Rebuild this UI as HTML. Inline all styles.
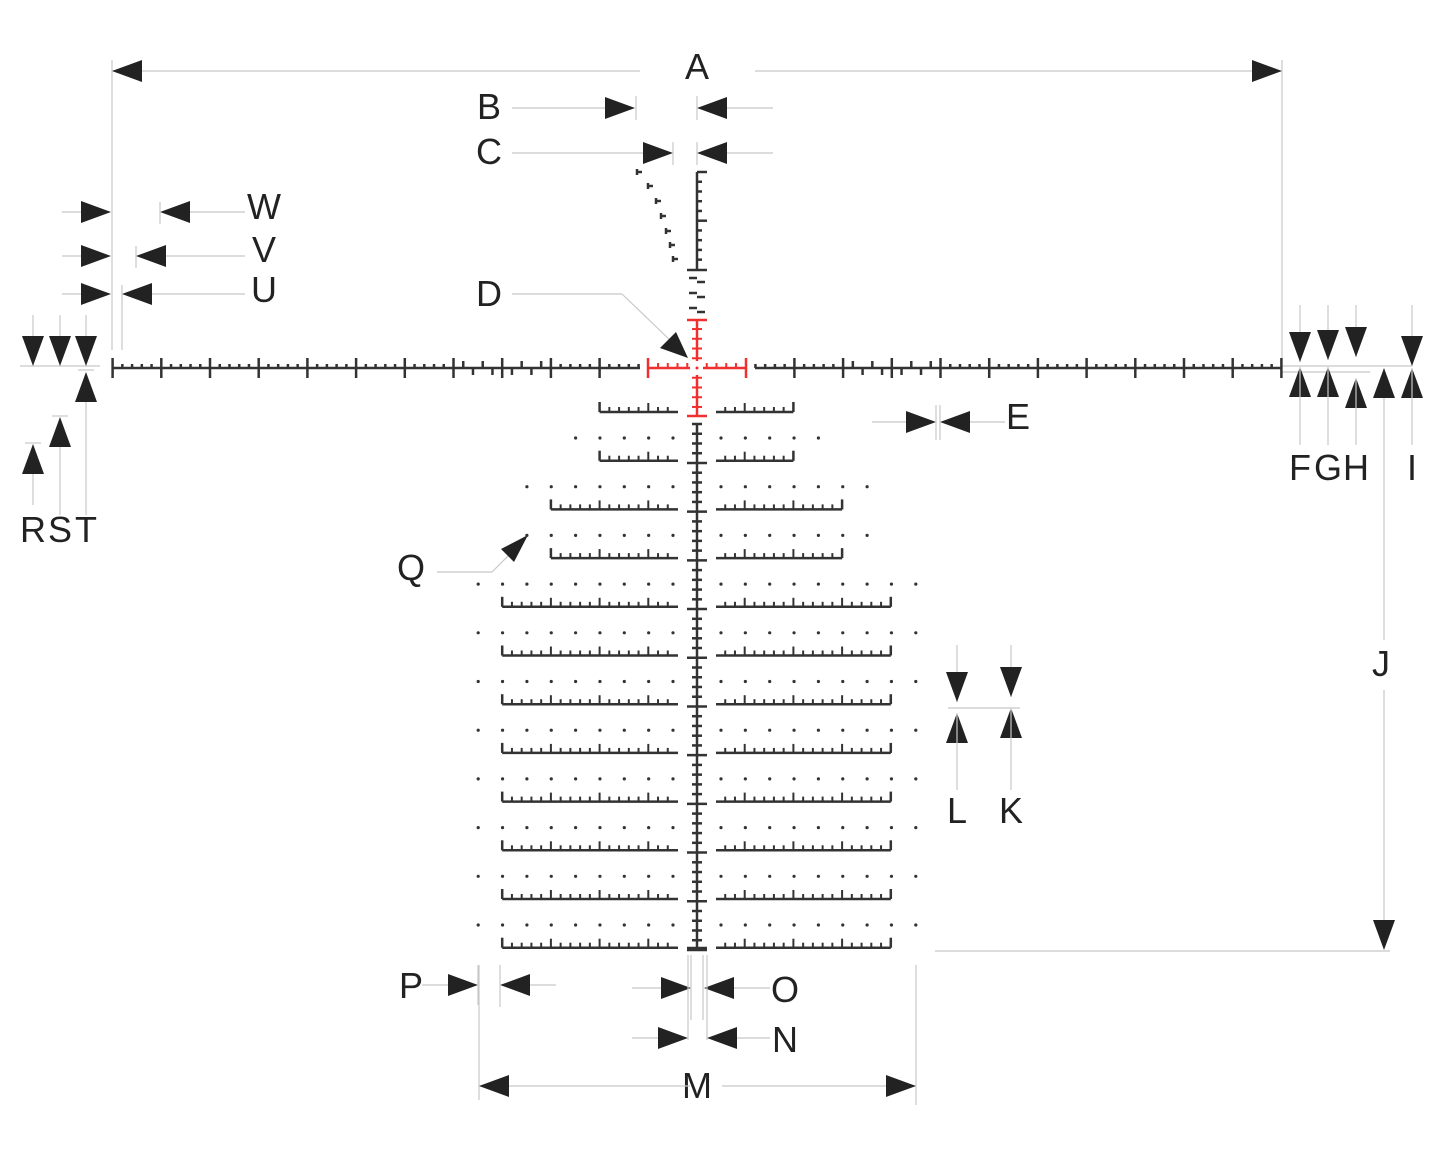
<!DOCTYPE html>
<html><head><meta charset="utf-8">
<style>
html,body{margin:0;padding:0;background:#fff;}
svg{display:block;}
text{font-family:"Liberation Sans Narrow","Liberation Sans",sans-serif;font-size:36px;fill:#222;text-anchor:middle;}
</style></head>
<body>
<svg id="s" width="1445" height="1156" viewBox="0 0 1445 1156" xmlns="http://www.w3.org/2000/svg">
<text x="697" y="79">A</text>
<text x="489" y="119">B</text>
<text x="489" y="164">C</text>
<text x="489" y="306">D</text>
<text x="1018" y="429">E</text>
<text x="1300" y="480">F</text>
<text x="1328" y="480">G</text>
<text x="1356" y="480">H</text>
<text x="1412" y="480">I</text>
<text x="1381" y="676">J</text>
<text x="1011" y="823">K</text>
<text x="957" y="823">L</text>
<text x="697" y="1098">M</text>
<text x="785" y="1052">N</text>
<text x="785" y="1002">O</text>
<text x="411" y="998">P</text>
<text x="411" y="580">Q</text>
<text x="33" y="542">R</text>
<text x="60" y="542">S</text>
<text x="86" y="542">T</text>
<text x="264" y="302">U</text>
<text x="264" y="262">V</text>
<text x="264" y="219">W</text>
</svg>
<script>
var s=document.getElementById('s'),NS='http://www.w3.org/2000/svg';
function el(t,a){var e=document.createElementNS(NS,t);for(var k in a)e.setAttribute(k,a[k]);s.appendChild(e);return e;}
function L(x1,y1,x2,y2,c,w){el('line',{x1:x1,y1:y1,x2:x2,y2:y2,stroke:c||'#333','stroke-width':w||2.5});}
function T(x1,y1,x2,y2){L(x1,y1,x2,y2,'#c8c8c8',1.2);}
function A(x,y,d){var l=30,h=11,p;
 if(d=='r')p=[[x,y],[x-l,y-h],[x-l,y+h]];
 if(d=='l')p=[[x,y],[x+l,y-h],[x+l,y+h]];
 if(d=='d')p=[[x,y],[x-h,y-l],[x+h,y-l]];
 if(d=='u')p=[[x,y],[x-h,y+l],[x+h,y+l]];
 el('polygon',{points:p.map(function(q){return q.join(',')}).join(' '),fill:'#222'});}
var M=48.7,st=M/5,cx=697,cy=368,D='#333',R='#f03030';
T(112,71,640,71);T(755,71,1282,71);A(112,71,'l');A(1282,71,'r');T(112,60,112,350);T(1282,60,1282,368);
T(512,108,605,108);A(635,108,'r');A(697,108,'l');T(727,108,773,108);T(636,96,636,120);T(697,96,697,120);
T(512,153,645,153);A(673,153,'r');A(697,153,'l');T(727,153,773,153);T(673,142,673,165);T(697,142,697,165);
T(512,294,622,294);T(622,294,672,342);el('polygon',{points:'688,358 660,348 676,332',fill:'#222'});
T(872,422,906,422);A(936,422,'r');A(940,422,'l');T(970,422,1005,422);T(936,405,936,440);T(940,405,940,440);
T(1282,366,1412,366);T(1282,372,1370,372);
[[1300,362,367],[1328,360,367],[1356,357,378]].forEach(function(a){T(a[0],305,a[0],a[1]);A(a[0],a[1],'d');A(a[0],a[2],'u');T(a[0],a[2],a[0],445);});
T(1412,305,1412,366);A(1412,366,'d');A(1412,368,'u');T(1412,368,1412,445);
A(1384,368,'u');T(1384,398,1384,640);T(1384,690,1384,920);A(1384,950,'d');T(935,951,1390,951);
T(948,708,1020,708);
[[1011,697,708],[957,702,713]].forEach(function(a){T(a[0],645,a[0],a[1]);A(a[0],a[1],'d');A(a[0],a[2],'u');T(a[0],a[2],a[0],790);});
T(479,1086,690,1086);T(722,1086,916,1086);A(479,1086,'l');A(916,1086,'r');T(479,965,479,1100);T(916,965,916,1105);
T(632,1038,658,1038);A(688,1038,'r');A(707,1038,'l');T(737,1038,770,1038);
T(632,988,661,988);A(691,988,'r');A(704,988,'l');T(734,988,770,988);
T(688,955,688,1040);T(691,955,691,1020);T(703,955,703,1020);T(707,955,707,1040);
T(422,985,448,985);A(478,985,'r');A(500,985,'l');T(530,985,556,985);T(478,965,478,1005);T(500,965,500,1007);
T(437,572,492,572);T(492,572,512,552);el('polygon',{points:'528,535 514,562 501,549',fill:'#222'});
T(20,366,100,366);
[33,60,86].forEach(function(x){T(x,315,x,336);A(x,366,'d');});
A(86,372,'u');T(86,402,86,515);T(78,370,94,370);
A(60,417,'u');T(60,447,60,515);T(52,416,68,416);
A(33,444,'u');T(33,474,33,505);T(25,443,41,443);
T(62,294,81,294);A(111,294,'r');A(122,294,'l');T(152,294,245,294);T(122,285,122,350);
T(62,256,81,256);A(111,256,'r');A(136,256,'l');T(166,256,245,256);T(136,246,136,268);
T(62,212,81,212);A(111,212,'r');A(160,212,'l');T(190,212,245,212);T(160,202,160,224);
L(112,cy,640,cy);L(755,cy,1282,cy);
for(var side=-1;side<=1;side+=2){
 for(var i=0;i<=60;i++){var x=cx+side*i*st;var m=i/5;
  if(Math.abs(x-cx)<57)continue;
  if(i%5==0){L(x,cy-10,x,cy+10);}
  else if(m>3&&m<5){var up=(i%2==0);L(x,cy,x,up?cy-7:cy+7);}
  else L(x,cy,x,cy-4);
 }}
L(648,cy,690,cy,R,2.5);L(703,cy,746,cy,R,2.5);L(648,cy-10,648,cy+10,R,2.5);L(746,cy-10,746,cy+10,R,2.5);
for(var i=1;i<5;i++){L(cx-i*st,cy,cx-i*st,cy-5,R,2);L(cx+i*st,cy,cx+i*st,cy-5,R,2);}
L(cx,320,cx,361,R,2.5);L(cx,375,cx,416,R,2.5);L(cx-10,320,cx+10,320,R,2.5);L(cx-10,416,cx+10,416,R,2.5);
for(var i=1;i<5;i++){L(cx-5,cy-i*st,cx+5,cy-i*st,R,2);L(cx-5,cy+i*st,cx+5,cy+i*st,R,2);}
el('circle',{cx:cx,cy:cy,r:1.5,fill:R});
L(cx,172,cx,270);L(cx,172,cx+10,172);L(cx-10,270,cx+10,270);
for(var i=1;i<10;i++){var y=172+i*st;L(cx,y,cx+(i==5?10:5),y);}
for(var i=0;i<3;i++){var y=278+i*15;L(cx-8,y,cx,y);L(cx,y+4,cx+8,y+4);}
[[638,172],[649,186],[657,201],[662,216],[667,231],[671,245],[674,259]].forEach(function(p){L(p[0]-1,p[1]-3,p[0]-1,p[1]+3,D,2.5);L(p[0]-1,p[1],p[0]+4,p[1],D,2.5);});
L(cx,424,cx,950);
for(var y=424;y<=951;y+=st){var k=Math.round((y-412)/M*5)%5;var w=(k==0)?10:5;L(cx-w,y,cx+w,y);}
L(cx-10,948,cx+10,948);
var rows=[];for(var r=0;r<12;r++)rows.push(412+r*48.7);
function bar(y,x1,x2,left){L(x1,y,x2,y);
 if(left){L(x1,y,x1,y-10);var n=Math.round((x2-x1)/st);for(var i=1;i<=n;i++){var x=x1+i*st;if(x>x2-2)break;L(x,y,x,y-(i%5==0?9:5),D,2);} }
 else{L(x2,y,x2,y-10);var n=Math.round((x2-x1)/st);for(var i=1;i<=n;i++){var x=x2-i*st;if(x<x1+2)break;L(x,y,x,y-(i%5==0?9:5),D,2);} }}
rows.forEach(function(y,r){var w=r<2?2:(r<4?3:4);var l=697-w*M,rr=697+w*M-1;bar(y,l,678,true);bar(y,716,rr,false);});
var drows=[];for(var r=0;r<11;r++)drows.push(438+r*48.7);
drows.forEach(function(y,r){var n=r<1?5:(r<3?7:9);for(var i=0;i<n;i++){el('circle',{cx:673-i*24.35,cy:y,r:1.6,fill:D});el('circle',{cx:721+i*24.35,cy:y,r:1.6,fill:D});}});
</script>
</body></html>
